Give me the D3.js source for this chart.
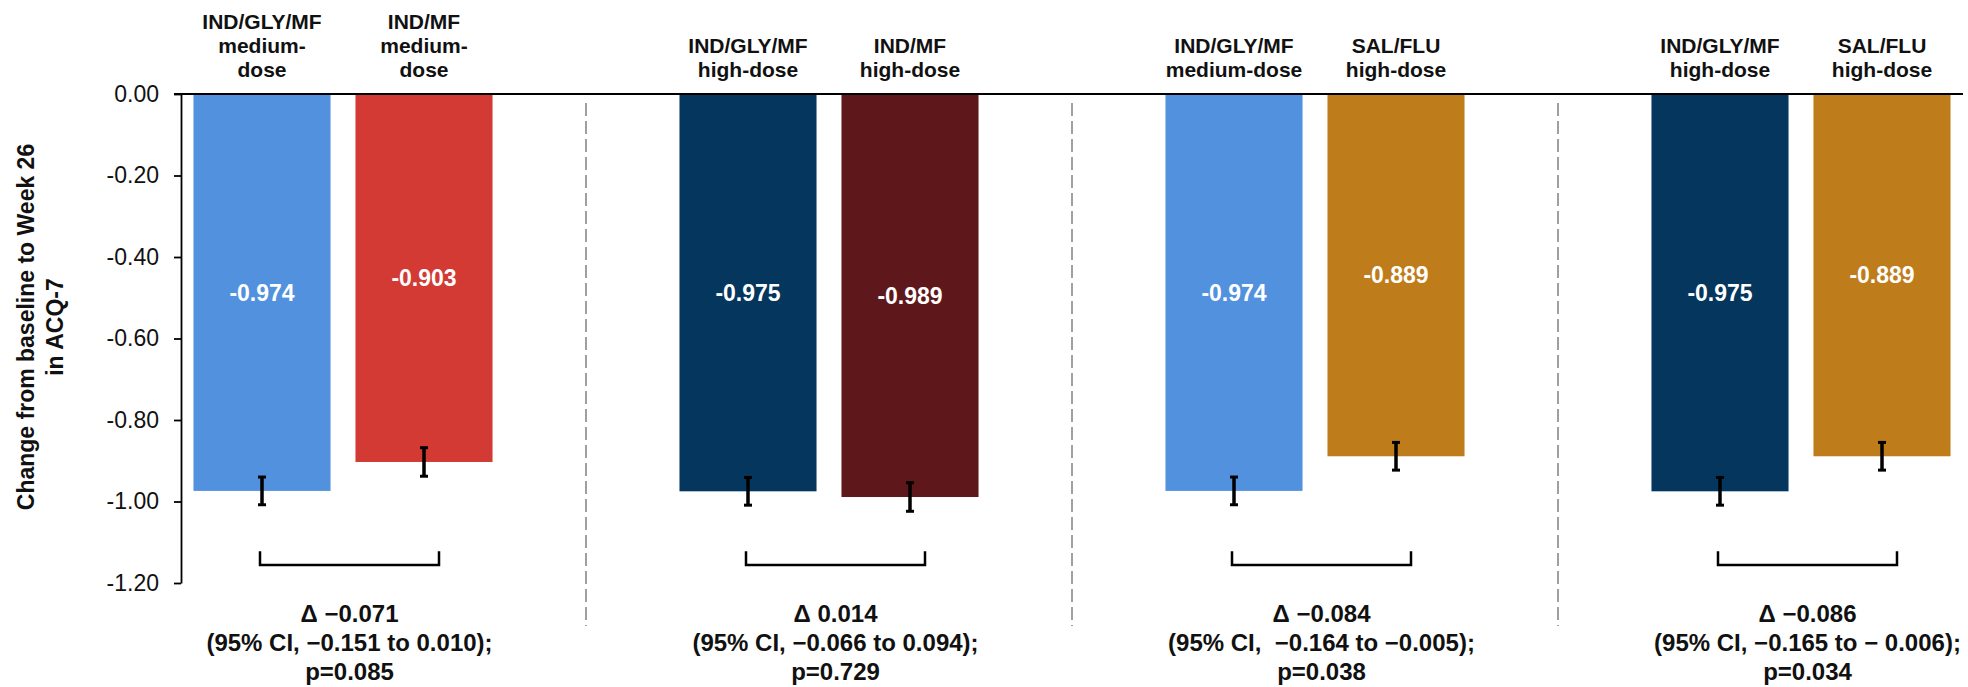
<!DOCTYPE html>
<html>
<head>
<meta charset="utf-8">
<script src="https://cdn.jsdelivr.net/npm/d3@7"></script>
<style>
  body { margin: 0; background: #fff; }
  text { font-family: "Liberation Sans", Arial, sans-serif; }
</style>
</head>
<body>
<svg width="1968" height="687"></svg>
<script>
// bar labels (one entry per bar, lines stacked above the bar)
const barLabels = [
    ["IND/GLY/MF", "medium-", "dose"],
    ["IND/MF", "medium-", "dose"],
    ["IND/GLY/MF", "high-dose"],
    ["IND/MF", "high-dose"],
    ["IND/GLY/MF", "medium-dose"],
    ["SAL/FLU", "high-dose"],
    ["IND/GLY/MF", "high-dose"],
    ["SAL/FLU", "high-dose"]
];
// LS mean change from baseline to week 26 in ACQ-7
const values = [-0.974, -0.903, -0.975, -0.989, -0.974, -0.889, -0.975, -0.889];
// half length of the error bars
const errors = [0.034, 0.035, 0.034, 0.035, 0.034, 0.034, 0.034, 0.034];
const barColors = ["#5191de", "#d33a34", "#04365e", "#5e181c", "#5191de", "#bf7c1a", "#04365e", "#bf7c1a"];

// treatment differences, one per comparison pair
const diffText = [
    ["\u0394 \u22120.071", "(95% CI, \u22120.151 to 0.010);", "p=0.085"],
    ["\u0394 0.014", "(95% CI, \u22120.066 to 0.094);", "p=0.729"],
    ["\u0394 \u22120.084", "(95% CI,  \u22120.164 to \u22120.005);", "p=0.038"],
    ["\u0394 \u22120.086", "(95% CI, \u22120.165 to \u2212 0.006);", "p=0.034"]
];

const yTicks = [0, -0.2, -0.4, -0.6, -0.8, -1.0, -1.2];

const svg = d3.select("svg");
const plotLeft = 181, plotRight = 1963, plotTop = 94, plotBottom = 583;

// 4 pairs of bars, an empty slot between the pairs
const slotOf = function(i) { return Math.floor(i / 2) * 3 + (i % 2); };
const x = d3.scaleBand()
    .domain(d3.range(11))
    .range([plotLeft, plotRight])
    .paddingInner(0.154)
    .paddingOuter(0.077);
const y = d3.scaleLinear().domain([0, -1.2]).range([plotTop, plotBottom]);

const bars = values.map(function(v, i) {
    return {v: v, err: errors[i], color: barColors[i], label: barLabels[i], slot: slotOf(i)};
});
const cx = function(d) { return x(d.slot) + x.bandwidth() / 2; };

// dashed dividers in the empty slots between the pairs
const dividers = [2, 5, 8].map(function(s) {
    return x(s) + x.bandwidth() / 2;
});
svg.selectAll("line.divider")
    .data(dividers)
    .enter().append("line")
    .classed("divider", true)
    .attr("x1", d => d).attr("x2", d => d)
    .attr("y1", 103).attr("y2", 626)
    .attr("stroke", "#a0a0a0")
    .attr("stroke-width", 2)
    .attr("stroke-dasharray", "13,5");

// bars
svg.selectAll("rect.bar")
    .data(bars)
    .enter().append("rect")
    .classed("bar", true)
    .attr("x", d => x(d.slot))
    .attr("width", x.bandwidth())
    .attr("y", y(0))
    .attr("height", d => y(d.v) - y(0))
    .attr("fill", d => d.color);

// value labels in the middle of each bar
svg.selectAll("text.value")
    .data(bars)
    .enter().append("text")
    .classed("value", true)
    .attr("x", cx)
    .attr("y", d => (y(0) + y(d.v)) / 2)
    .attr("dy", "0.36em")
    .attr("text-anchor", "middle")
    .attr("fill", "#fff")
    .attr("font-weight", "bold")
    .attr("font-size", "23px")
    .text(d => d.v.toFixed(3));

// error bars
const eb = svg.selectAll("g.err")
    .data(bars)
    .enter().append("g")
    .classed("err", true);
eb.append("line")
    .attr("x1", cx).attr("x2", cx)
    .attr("y1", d => y(d.v + d.err)).attr("y2", d => y(d.v - d.err))
    .attr("stroke", "#000").attr("stroke-width", 3.5);
eb.selectAll("line.cap")
    .data(d => [[d, d.v + d.err], [d, d.v - d.err]])
    .enter().append("line")
    .classed("cap", true)
    .attr("x1", d => cx(d[0]) - 4).attr("x2", d => cx(d[0]) + 4)
    .attr("y1", d => y(d[1])).attr("y2", d => y(d[1]))
    .attr("stroke", "#000").attr("stroke-width", 3);

// labels above the bars, last line sits on the same baseline
svg.selectAll("text.cat")
    .data(bars)
    .enter().append("text")
    .classed("cat", true)
    .attr("text-anchor", "middle")
    .attr("font-weight", "bold")
    .attr("font-size", "21px")
    .attr("fill", "#111")
    .each(function(d) {
        const t = d3.select(this);
        const n = d.label.length;
        d.label.forEach(function(line, k) {
            t.append("tspan")
                .attr("x", cx(d))
                .attr("y", 77 - (n - 1 - k) * 24)
                .text(line);
        });
    });

// brackets joining each pair
const pairs = d3.range(4).map(function(g) {
    return {a: bars[g * 2], b: bars[g * 2 + 1], text: diffText[g]};
});
const yBrTop = y(-1.122), yBrBot = y(-1.156);
svg.selectAll("path.bracket")
    .data(pairs)
    .enter().append("path")
    .classed("bracket", true)
    .attr("d", function(d) {
        const x0 = cx(d.a) - 2, x1 = cx(d.b) + 15;
        return "M" + x0 + "," + yBrTop + "V" + yBrBot + "H" + x1 + "V" + yBrTop;
    })
    .attr("fill", "none")
    .attr("stroke", "#000")
    .attr("stroke-width", 2.5);

// difference text under each bracket
svg.selectAll("text.diff")
    .data(pairs)
    .enter().append("text")
    .classed("diff", true)
    .attr("text-anchor", "middle")
    .attr("font-weight", "bold")
    .attr("font-size", "24px")
    .attr("fill", "#111")
    .style("white-space", "pre")
    .each(function(d) {
        const t = d3.select(this);
        const mid = (cx(d.a) - 2 + cx(d.b) + 15) / 2;
        d.text.forEach(function(line, k) {
            t.append("tspan")
                .attr("x", mid)
                .attr("y", 622 + k * 29)
                .text(line);
        });
    });

// y axis
const yAxis = svg.append("g")
    .attr("transform", "translate(" + plotLeft + ",0)")
    .call(d3.axisLeft(y)
        .tickValues(yTicks)
        .tickSize(7)
        .tickSizeOuter(0)
        .tickPadding(15)
        .tickFormat(d => d.toFixed(2)));
yAxis.select(".domain").attr("stroke", "#000").attr("stroke-width", 1.8);
yAxis.selectAll(".tick line").attr("stroke", "#000").attr("stroke-width", 1.8);
yAxis.selectAll(".tick text")
    .attr("font-family", "Liberation Sans, Arial, sans-serif")
    .attr("font-size", "23px")
    .attr("fill", "#111");

// zero line across the whole plot
svg.append("line")
    .attr("x1", plotLeft - 7).attr("x2", plotRight)
    .attr("y1", y(0)).attr("y2", y(0))
    .attr("stroke", "#000")
    .attr("stroke-width", 2);

// y axis title
const yMid = 327;
svg.append("text")
    .attr("transform", "translate(34," + yMid + ") rotate(-90)")
    .attr("text-anchor", "middle")
    .attr("font-weight", "bold")
    .attr("font-size", "23px")
    .attr("fill", "#111")
    .text("Change from baseline to Week 26");
svg.append("text")
    .attr("transform", "translate(63," + yMid + ") rotate(-90)")
    .attr("text-anchor", "middle")
    .attr("font-weight", "bold")
    .attr("font-size", "23px")
    .attr("fill", "#111")
    .text("in ACQ-7");
</script>
</body>
</html>
